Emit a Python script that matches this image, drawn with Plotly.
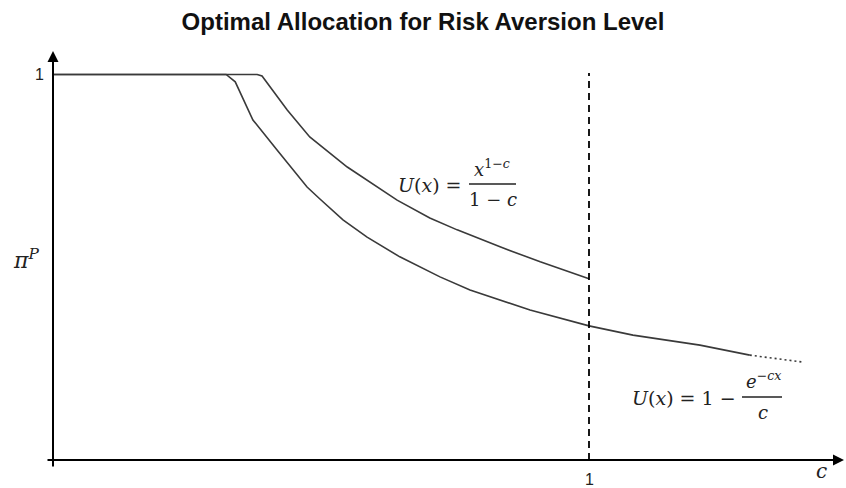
import plotly.graph_objects as go

# ---- data (c = risk aversion, pi = optimal allocation) ----
crra_c = [0.0, 0.381, 0.390, 0.437, 0.479, 0.549, 0.642, 0.703, 0.754, 0.834, 0.909, 1.0]
crra_pi = [1.0, 1.0, 0.996, 0.908, 0.838, 0.760, 0.674, 0.628, 0.597, 0.553, 0.514, 0.470]

cara_c = [0.0, 0.323, 0.340, 0.373, 0.418, 0.448, 0.474, 0.498, 0.541, 0.586, 0.647,
          0.722, 0.778, 0.890, 1.0, 1.082, 1.207, 1.300]
cara_pi = [1.0, 1.0, 0.981, 0.882, 0.804, 0.752, 0.708, 0.677, 0.623, 0.578, 0.527,
           0.475, 0.441, 0.389, 0.348, 0.324, 0.298, 0.272]

cara_ext_c = [1.300, 1.399]
cara_ext_pi = [0.272, 0.254]

ref_c = [1.0, 1.0]
ref_pi = [0.0, 1.004]

x_ticks = [1]
y_ticks = [1]

# ---- geometry helpers (pixel -> data) ----
X0_PX, X_SCALE = 53.0, 536.0
Y0_PX, Y_SCALE = 460.0, 385.5
W, H = 846, 488


def dx(px):
    return (px - X0_PX) / X_SCALE


def dy(py):
    return (Y0_PX - py) / Y_SCALE


fig = go.Figure()

line_col = "#3a3a3a"
fig.add_trace(go.Scatter(x=cara_c, y=cara_pi, mode="lines",
                         line=dict(color=line_col, width=1.6), showlegend=False, hoverinfo="skip"))
fig.add_trace(go.Scatter(x=crra_c, y=crra_pi, mode="lines",
                         line=dict(color=line_col, width=1.6), showlegend=False, hoverinfo="skip"))
fig.add_trace(go.Scatter(x=cara_ext_c, y=cara_ext_pi, mode="lines",
                         line=dict(color=line_col, width=1.6, dash="2px,3px"), showlegend=False, hoverinfo="skip"))
fig.add_trace(go.Scatter(x=ref_c, y=ref_pi, mode="lines",
                         line=dict(color="black", width=1.8, dash="7px,5px"), showlegend=False, hoverinfo="skip"))

annotations = []
# axes with arrows
annotations.append(dict(x=dx(844), y=0, ax=dx(46), ay=0, axref="x", ayref="y", xref="x", yref="y",
                        text="", showarrow=True, arrowhead=2, arrowsize=1.1, arrowwidth=2, arrowcolor="black",
                        standoff=0))
annotations.append(dict(x=0, y=dy(51), ax=0, ay=dy(468), axref="x", ayref="y", xref="x", yref="y",
                        text="", showarrow=True, arrowhead=2, arrowsize=1.1, arrowwidth=2, arrowcolor="black",
                        standoff=0))

tick_font = dict(family="Liberation Sans, Arial", size=16, color="#222")
for t in x_ticks:
    annotations.append(dict(x=t, y=dy(479), text=str(t), showarrow=False, font=tick_font,
                            xanchor="center", yanchor="middle"))
for t in y_ticks:
    annotations.append(dict(x=dx(39), y=t, text=str(t), showarrow=False, font=tick_font,
                            xanchor="center", yanchor="middle"))

serif = "DejaVu Serif, Liberation Serif, serif"
math_font = dict(family=serif, size=19, color="#222")
math_small = dict(family=serif, size=18, color="#222")

# axis labels
annotations.append(dict(x=dx(26), y=dy(259), text="<i>π</i><sup><i>P</i></sup>", showarrow=False,
                        font=dict(family=serif, size=22, color="#222"), xanchor="center", yanchor="middle"))
annotations.append(dict(x=dx(821), y=dy(471), text="<i>c</i>", showarrow=False,
                        font=dict(family=serif, size=20, color="#222"), xanchor="center", yanchor="middle"))

# CRRA label
annotations.append(dict(x=dx(464), y=dy(185), text="<i>U</i>(<i>x</i>) =", showarrow=False,
                        font=math_font, xanchor="right", yanchor="middle"))
annotations.append(dict(x=dx(492), y=dy(168), text="<i>x</i><sup>1−<i>c</i></sup>", showarrow=False,
                        font=math_small, xanchor="center", yanchor="middle"))
annotations.append(dict(x=dx(493), y=dy(199), text="1 − <i>c</i>", showarrow=False,
                        font=math_small, xanchor="center", yanchor="middle"))

# CARA label
annotations.append(dict(x=dx(738), y=dy(398), text="<i>U</i>(<i>x</i>) = 1 −", showarrow=False,
                        font=math_font, xanchor="right", yanchor="middle"))
annotations.append(dict(x=dx(763), y=dy(380), text="<i>e</i><sup>−<i>cx</i></sup>", showarrow=False,
                        font=math_small, xanchor="center", yanchor="middle"))
annotations.append(dict(x=dx(763), y=dy(412), text="<i>c</i>", showarrow=False,
                        font=math_small, xanchor="center", yanchor="middle"))

shapes = [
    dict(type="line", x0=dx(469), x1=dx(516), y0=dy(184), y1=dy(184), xref="x", yref="y",
         line=dict(color="#222", width=1.3)),
    dict(type="line", x0=dx(742), x1=dx(782), y0=dy(397), y1=dy(397), xref="x", yref="y",
         line=dict(color="#222", width=1.3)),
]

fig.update_layout(
    width=W, height=H, autosize=False,
    margin=dict(l=0, r=0, t=0, b=0),
    paper_bgcolor="white", plot_bgcolor="white",
    title=dict(text="<b>Optimal Allocation for Risk Aversion Level</b>", x=0.5, xanchor="center",
               y=1 - 22 / H, yanchor="middle",
               font=dict(family="Liberation Sans, Arial", size=24, color="#111")),
    xaxis=dict(range=[dx(0), dx(W)], visible=False, fixedrange=True),
    yaxis=dict(range=[dy(H), dy(0)], visible=False, fixedrange=True),
    annotations=annotations,
    shapes=shapes,
    showlegend=False,
)

fig.write_html("out.html", config={"displayModeBar": False},
               post_script="document.body.style.margin='0';document.body.style.overflow='hidden';")
